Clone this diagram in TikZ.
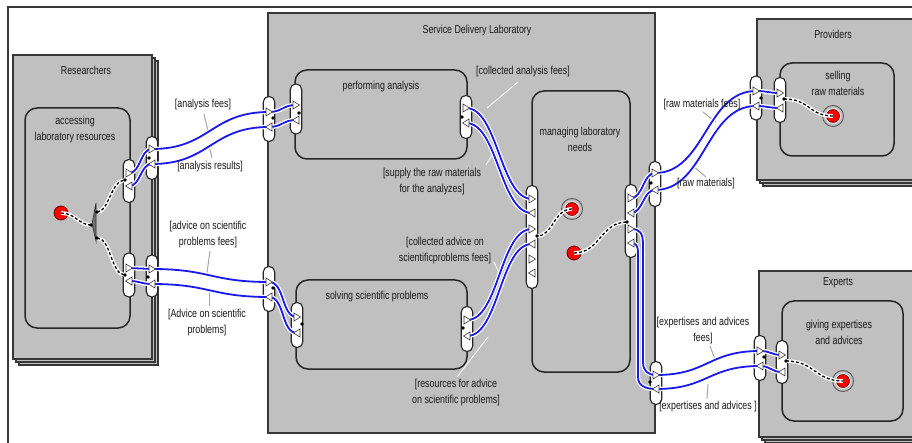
\documentclass[tikz,border=0pt]{standalone}
\usepackage{fontspec}
\setmainfont{Liberation Sans}[FakeStretch=0.77]
\usetikzlibrary{calc}
\definecolor{boxgray}{RGB}{192,192,192}
\definecolor{flowblue}{RGB}{25,25,235}
\definecolor{edgegray}{RGB}{55,55,55}
\definecolor{txtcol}{RGB}{25,25,25}
\newcommand{\lblfont}{\fontsize{11.5}{16}\selectfont}
\begin{document}
\begin{tikzpicture}[x=1pt,y=-1pt,
  outerbox/.style={fill=boxgray, draw=edgegray, line width=1.3pt},
  act/.style={draw=black!85, line width=1.5pt, rounded corners=12pt},
  pill/.style={draw=black!85, fill=white, line width=1.1pt, rounded corners=5.5pt, minimum width=11.5pt, inner sep=0pt},
  flow/.style={draw=flowblue, line width=1.8pt, preaction={draw=white, line width=4.4pt}},
  ctrl/.style={draw=black, line width=1.3pt, dash pattern=on 3pt off 2pt, preaction={draw=white, line width=3.8pt, solid}},
  lead/.style={draw=gray!70, line width=1pt},
  leadin/.style={draw=white!92!gray, line width=1pt},
  lab/.style={font=\lblfont, text=txtcol, align=center, inner sep=0pt},
  tri/.style={fill=white, draw=gray!45!black, line width=0.6pt},
  startdot/.style={circle, fill=red, draw=red!45!black, line width=0.8pt, minimum size=14pt, inner sep=0pt},
  enddot/.style={circle, minimum size=21pt, inner sep=0pt, draw=black!65, fill=gray!50, line width=0.9pt,
     path picture={\fill[white!80!gray] (path picture bounding box.center) circle (8pt);
                   \fill[red] (path picture bounding box.center) circle (6.5pt);
                   \draw[red!40!black, line width=0.6pt] (path picture bounding box.center) circle (6.5pt);}},
  pr/.pic={\draw[tri] (-3,-4) -- (3.5,0) -- (-3,4) -- cycle;},
  pl/.pic={\draw[tri] (3,-4) -- (-3.5,0) -- (3,4) -- cycle;},
]
\useasboundingbox (0,0) rectangle (912,443);
\clip (0,0) rectangle (912,443);
\fill[white] (0,0) rectangle (912,443);

% frame
\draw[edgegray, line width=1.4pt] (8,443) -- (8,7) -- (912,7);

% containers
\foreach \d in {6,3,0} \draw[outerbox] (13+\d,55+\d) rectangle (152+\d,359+\d);
\draw[outerbox] (268,13) rectangle (655,433);
\foreach \d in {6,3,0} \draw[outerbox] (757+\d,19+\d) rectangle (918+\d,180+\d);
\foreach \d in {6,3,0} \draw[outerbox] (759+\d,271+\d) rectangle (918+\d,437+\d);

% activities
\draw[act] (25,108) rectangle (130,328);
\draw[act] (295,70) rectangle (467,159);
\draw[act] (296,280) rectangle (467,369);
\draw[act] (532,91) rectangle (630,372);
\draw[act] (780,63) rectangle (894,156);
\draw[act] (782,301) rectangle (903,421);

% titles
\node[lab] (tres) at (86,70) {Researchers};
\node[lab] (tacc) at (75,130) {accessing\\laboratory resources};
\node[lab] (tsdl) at (477,31) {Service Delivery Laboratory};
\node[lab] (tperf) at (381,87) {performing analysis};
\node[lab] (tman) at (580,139) {managing laboratory\\needs};
\node[lab] (tsolv) at (377,297) {solving scientific problems};
\node[lab] (tprov) at (833,34) {Providers};
\node[lab] (tsell) at (838,83) {selling\\raw materials};
\node[lab] (texp) at (838,283) {Experts};
\node[lab] (tgiv) at (839,332) {giving expertises\\and advices};

% ports
\node[pill, minimum height=43pt] (rpin1) at (129,181) {};
\node[pill, minimum height=43pt] (rpout1) at (152,158) {};
\node[pill, minimum height=44pt] (rpin2) at (129,275) {};
\node[pill, minimum height=42pt] (rpout2) at (152,276) {};
\node[pill, minimum height=45pt] (sl1) at (269,119) {};
\node[pill, minimum height=50pt] (pal) at (296,109) {};
\node[pill, minimum height=43pt] (par) at (466,117) {};
\node[pill, minimum height=45pt] (sl2) at (269,289) {};
\node[pill, minimum height=45pt] (svl) at (297,325) {};
\node[pill, minimum height=45pt] (svr) at (467,329) {};
\node[pill, minimum height=103pt] (ml) at (532,237) {};
\node[pill, minimum height=73pt] (mr) at (631,221) {};
\node[pill, minimum height=45pt] (sr1) at (655,184) {};
\node[pill, minimum height=43pt] (sr2) at (656,383) {};
\node[pill, minimum height=44pt] (pvo) at (756,98) {};
\node[pill, minimum height=45pt] (pvi) at (780,100) {};
\node[pill, minimum height=45pt] (exo) at (760,358) {};
\node[pill, minimum height=43pt] (exi) at (782,362) {};

% pins
\coordinate (rpin1a) at (129,173); \coordinate (rpin1b) at (129,186);
\coordinate (rpout1a) at (152,149); \coordinate (rpout1b) at (152,164);
\coordinate (rpin2a) at (129,268); \coordinate (rpin2b) at (129,281);
\coordinate (rpout2a) at (152,269); \coordinate (rpout2b) at (152,284);
\coordinate (sl1a) at (269,112); \coordinate (sl1b) at (269,127);
\coordinate (pala) at (296,105); \coordinate (palb) at (296,120);
\coordinate (sl2a) at (269,282); \coordinate (sl2b) at (269,297);
\coordinate (svla) at (297,317); \coordinate (svlb) at (297,333);
\coordinate (para) at (466,108); \coordinate (parb) at (466,123);
\coordinate (svra) at (467,320); \coordinate (svrb) at (467,336);
\coordinate (mla) at (532,199); \coordinate (mlb) at (532,213);
\coordinate (mlc) at (532,229); \coordinate (mld) at (532,244);
\coordinate (mle) at (532,259); \coordinate (mlf) at (532,273);
\coordinate (mra) at (631,198); \coordinate (mrb) at (631,213);
\coordinate (mrc) at (631,229); \coordinate (mrd) at (631,243);
\coordinate (sr1a) at (655,173); \coordinate (sr1b) at (655,190);
\coordinate (sr2a) at (656,375); \coordinate (sr2b) at (656,389);
\coordinate (pvoa) at (756,91); \coordinate (pvob) at (756,106);
\coordinate (pvia) at (780,93); \coordinate (pvib) at (780,108);
\coordinate (exoa) at (760,351); \coordinate (exob) at (760,366);
\coordinate (exia) at (782,355); \coordinate (exib) at (782,372);
\coordinate (ka1) at (643,245); \coordinate (ka2) at (643,362);
\coordinate (kb1) at (638,252); \coordinate (kb2) at (638,377);

% start / end nodes
\node[startdot] (rs) at (61,213) {};
\node[startdot] (ms) at (574,253) {};
\node[enddot] (me) at (572,209) {};
\node[enddot] (pe) at (833,116) {};
\node[enddot] (ee) at (843,381) {};
\coordinate (fk) at (91,225);
\coordinate (fka) at (97,212);
\coordinate (fkb) at (97,238);
\coordinate (rpin1d) at (125,180);
\coordinate (rpin2d) at (125,275);
\coordinate (mldot) at (537,236);
\coordinate (mrdot) at (627,222);
\coordinate (pvid) at (784,99);
\coordinate (exid) at (786,361);

% leader lines
\coordinate (la1) at (208,131); \coordinate (la2) at (209,146);
\coordinate (la3) at (207,273); \coordinate (la4) at (209,290);
\draw[lead] (204,114) -- (la1);
\draw[lead] (212,158) -- (la2);
\draw[lead] (210,251) -- (la3);
\draw[lead] (209,306) -- (la4);
\coordinate (lb1) at (487,108); \coordinate (lb2) at (497,147);
\coordinate (lb3) at (500,275); \coordinate (lb4) at (488,337);
\draw[leadin] (518,82) -- (lb1);
\draw[leadin] (486,165) -- (lb2);
\draw[leadin] (494,262) -- (lb3);
\draw[leadin] (457,377) -- (lb4);
\coordinate (lc1) at (716,122); \coordinate (lc2) at (693,166);
\coordinate (lc3) at (716,362); \coordinate (lc4) at (708,384);
\draw[lead] (703,112) -- (lc1);
\draw[lead] (706,177) -- (lc2);
\draw[lead] (710,346) -- (lc3);
\draw[lead] (707,399) -- (lc4);

% flows
\draw[flow] (rpin1a) .. controls +(12,0) and +(-12,0) .. (rpout1a) .. controls +(58,0) and +(-58,0) .. (sl1a) .. controls +(13,0) and +(-13,0) .. (pala);
\draw[flow] (rpin1b) .. controls +(12,0) and +(-12,0) .. (rpout1b) .. controls +(58,0) and +(-58,0) .. (sl1b) .. controls +(13,0) and +(-13,0) .. (palb);
\draw[flow] (rpin2a) .. controls +(12,0) and +(-12,0) .. (rpout2a) .. controls +(58,0) and +(-58,0) .. (sl2a) .. controls +(16,0) and +(-16,0) .. (svla);
\draw[flow] (rpin2b) .. controls +(12,0) and +(-12,0) .. (rpout2b) .. controls +(58,0) and +(-58,0) .. (sl2b) .. controls +(16,0) and +(-16,0) .. (svlb);
\draw[flow] (para) .. controls +(32,0) and +(-32,0) .. (mla);
\draw[flow] (parb) .. controls +(32,0) and +(-32,0) .. (mlb);
\draw[flow] (svra) .. controls +(32,0) and +(-32,0) .. (mlc);
\draw[flow] (svrb) .. controls +(32,0) and +(-32,0) .. (mld);
\draw[flow] (mra) .. controls +(12,0) and +(-12,0) .. (sr1a) .. controls +(50,0) and +(-50,0) .. (pvoa) .. controls +(12,0) and +(-12,0) .. (pvia);
\draw[flow] (mrb) .. controls +(12,0) and +(-12,0) .. (sr1b) .. controls +(50,0) and +(-50,0) .. (pvob) .. controls +(12,0) and +(-12,0) .. (pvib);
\draw[flow] (mrc) .. controls +(9,0) and +(0,-12) .. (ka1) -- (ka2) .. controls +(0,9) and +(-8,0) .. (sr2a) .. controls +(52,0) and +(-52,0) .. (exoa) .. controls +(11,0) and +(-11,0) .. (exia);
\draw[flow] (mrd) .. controls +(5,0) and +(0,-6) .. (kb1) -- (kb2) .. controls +(0,9) and +(-10,0) .. (sr2b) .. controls +(52,0) and +(-52,0) .. (exob) .. controls +(11,0) and +(-11,0) .. (exib);

% control flows
\draw[ctrl] (rs.center) .. controls +(14,0) and +(-12,0) .. (fk);
\draw[ctrl] (fka) .. controls +(12,0) and +(-14,0) .. (rpin1d);
\draw[ctrl] (fkb) .. controls +(14,0) and +(-14,0) .. (rpin2d);
\draw[ctrl] (me.center) .. controls +(-18,0) and +(16,0) .. (mldot);
\draw[ctrl] (ms.center) .. controls +(26,0) and +(-26,0) .. (mrdot);
\draw[ctrl] (pvid) .. controls +(26,0) and +(-24,0) .. (pe.center);
\draw[ctrl] (exid) .. controls +(29,0) and +(-28,0) .. (ee.center);

% fork
\filldraw[fill=black!55, draw=black!85, line width=0.6pt] (96,203) -- (92,224) -- (96,241) -- cycle;

% triangles
\foreach \p in {rpin1a,rpout1a,rpin2a,rpout2a,sl1a,pala,sl2a,svla,para,svra,mla,mlc,mle,mra,mrc,sr1a,sr2a,pvoa,pvia,exoa,exia}
  \pic at (\p) {pr};
\foreach \p in {rpin1b,rpout1b,rpin2b,rpout2b,sl1b,palb,sl2b,svlb,parb,svrb,mlb,mld,mlf,mrb,mrd,sr1b,sr2b,pvob,pvib,exob,exib}
  \pic at (\p) {pl};

% pin dots
\foreach \q in {(149,158),(125,180),(125,275),(148,277),(273,118),(273,288),(299,113),(302,324),(462,117),(463,328),(537,236),(627,222),(651,183),(650,382),(761,98),(784,99),(764,357),(786,361),(91,225),(97,212),(97,238)}
  \fill \q circle (1.8);

% labels
\node[lab] (lafees) at (203,105) {[analysis fees]};
\node[lab] (lares) at (210,167) {[analysis results]};
\node[lab] (ladvf) at (208,235) {[advice on scientific\\problems fees]};
\node[lab] (ladv) at (207,323) {[Advice on scientific\\problems]};
\node[lab] (lcaf) at (523,72) {[collected analysis fees]};
\node[lab] (lsup) at (432,182) {[supply the raw materials\\for the analyzes]};
\node[lab] (lcadv) at (445,251) {[collected advice on\\scientificproblems fees]};
\node[lab] (lres) at (456,393) {[resources for advice\\on scientific problems]};
\node[lab] (lrmf) at (702,105) {[raw materials fees]};
\node[lab] (lrm) at (706,184) {[raw materials]};
\node[lab] (lexf) at (703,331) {[expertises and advices\\fees]};
\node[lab] (lex) at (708,407) {[expertises and advices ]};
\end{tikzpicture}
\end{document}
